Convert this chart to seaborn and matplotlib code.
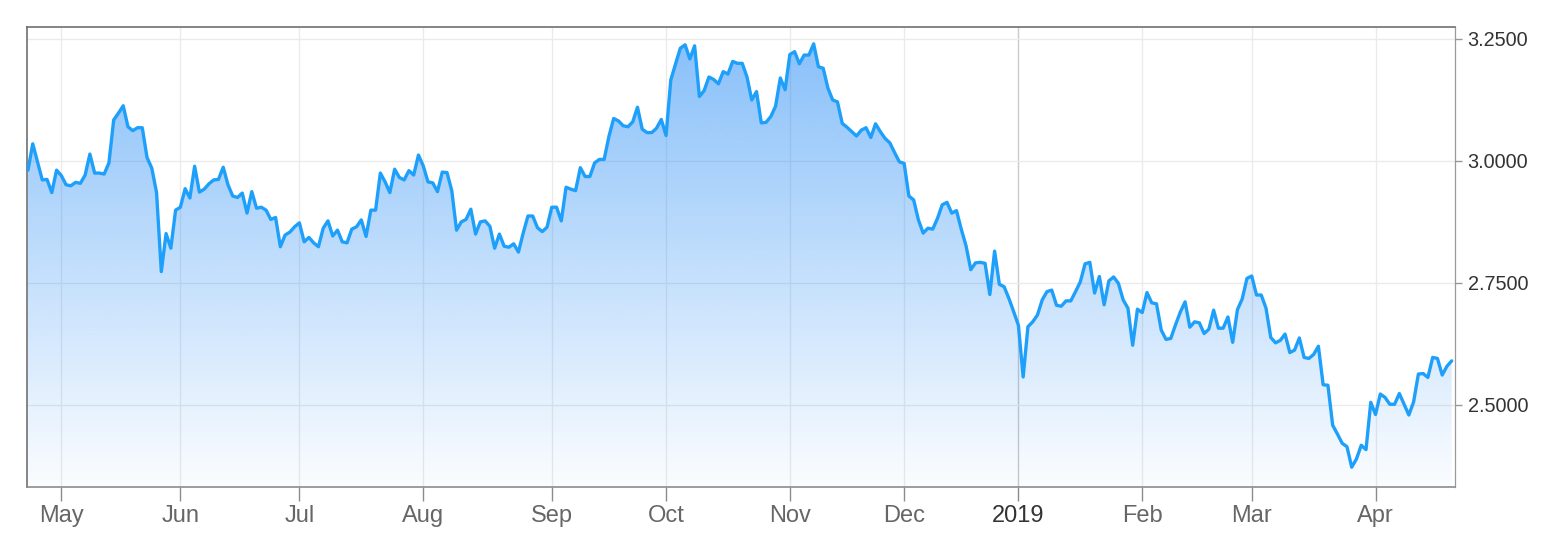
import numpy as np
import pandas as pd
import matplotlib
matplotlib.use("Agg")
import matplotlib.pyplot as plt
import seaborn as sns

# daily values, grouped by month
apr_2018 = [2.981, 3.035, 2.998, 2.961, 2.962, 2.935, 2.981]
may_2018 = [2.970, 2.951, 2.949, 2.956, 2.954, 2.971, 3.014, 2.975, 2.975, 2.973,
            2.996, 3.084, 3.098, 3.113, 3.070, 3.062, 3.068, 3.068, 3.007, 2.985,
            2.935, 2.773, 2.851, 2.821, 2.899]
jun_2018 = [2.905, 2.943, 2.924, 2.989, 2.936, 2.942, 2.953, 2.961, 2.962, 2.987,
            2.951, 2.928, 2.925, 2.934, 2.893, 2.937, 2.903, 2.905, 2.899, 2.880,
            2.884, 2.824, 2.848, 2.854, 2.865]
jul_2018 = [2.873, 2.834, 2.843, 2.832, 2.824, 2.862, 2.877, 2.846, 2.858, 2.834,
            2.832, 2.860, 2.865, 2.879, 2.845, 2.899, 2.899, 2.975, 2.957, 2.935,
            2.983, 2.966, 2.961, 2.980, 2.971, 3.012]
aug_2018 = [2.990, 2.957, 2.955, 2.937, 2.977, 2.976, 2.939, 2.858, 2.875, 2.880,
            2.901, 2.850, 2.875, 2.877, 2.866, 2.821, 2.850, 2.825, 2.823, 2.830,
            2.813, 2.852, 2.887, 2.887, 2.863, 2.855, 2.864]
sep_2018 = [2.905, 2.905, 2.877, 2.946, 2.942, 2.939, 2.986, 2.968, 2.968, 2.996,
            3.003, 3.003, 3.050, 3.087, 3.082, 3.072, 3.070, 3.080, 3.110, 3.065,
            3.058, 3.058, 3.067, 3.085]
oct_2018 = [3.052, 3.166, 3.199, 3.231, 3.238, 3.209, 3.236, 3.132, 3.144, 3.172,
            3.167, 3.158, 3.183, 3.178, 3.204, 3.200, 3.200, 3.172, 3.125, 3.142,
            3.078, 3.079, 3.091, 3.112, 3.170, 3.146]
nov_2018 = [3.218, 3.224, 3.199, 3.217, 3.217, 3.240, 3.193, 3.190, 3.149, 3.125,
            3.121, 3.077, 3.069, 3.060, 3.051, 3.063, 3.068, 3.048, 3.076, 3.060,
            3.046, 3.037, 3.017, 2.998]
dec_2018 = [2.995, 2.928, 2.920, 2.879, 2.852, 2.862, 2.860, 2.882, 2.910, 2.915,
            2.893, 2.898, 2.860, 2.826, 2.777, 2.791, 2.792, 2.790, 2.726, 2.815,
            2.747, 2.742, 2.718, 2.691]
jan_2019 = [2.663, 2.557, 2.660, 2.670, 2.684, 2.715, 2.732, 2.735, 2.704, 2.702,
            2.713, 2.713, 2.732, 2.752, 2.789, 2.792, 2.729, 2.763, 2.705, 2.754,
            2.762, 2.749, 2.715, 2.698, 2.622, 2.696]
feb_2019 = [2.689, 2.730, 2.709, 2.707, 2.653, 2.634, 2.636, 2.664, 2.690, 2.711,
            2.659, 2.670, 2.668, 2.646, 2.655, 2.694, 2.657, 2.657, 2.680, 2.628,
            2.695, 2.717, 2.759]
mar_2019 = [2.764, 2.725, 2.725, 2.698, 2.638, 2.627, 2.632, 2.645, 2.607, 2.612,
            2.637, 2.597, 2.595, 2.603, 2.620, 2.541, 2.540, 2.458, 2.440, 2.421,
            2.414, 2.372, 2.389, 2.417, 2.408, 2.505]
apr_2019 = [2.480, 2.522, 2.515, 2.501, 2.501, 2.523, 2.501, 2.479, 2.506, 2.563,
            2.564, 2.556, 2.597, 2.595, 2.561, 2.579, 2.590]

months = [apr_2018, may_2018, jun_2018, jul_2018, aug_2018, sep_2018, oct_2018,
          nov_2018, dec_2018, jan_2019, feb_2019, mar_2019, apr_2019]
month_labels = ["May", "Jun", "Jul", "Aug", "Sep", "Oct", "Nov", "Dec",
                "2019", "Feb", "Mar", "Apr"]
y_ticks = [2.50, 2.75, 3.00, 3.25]

values = np.concatenate(months)
df = pd.DataFrame({"idx": np.arange(len(values)), "value": values})
month_starts = np.cumsum([0] + [len(m) for m in months])[1:-1]

sns.set_style("white")
plt.rcParams["font.family"] = ["Liberation Sans", "DejaVu Sans"]

fig = plt.figure(figsize=(15.66, 5.5), dpi=100)
ax = fig.add_axes([0.01705, 0.1151, 0.9121, 0.8364])

line_color = "#1ea0fa"
x_lo, x_hi = -0.27, len(values) - 1 + 0.7
y_lo, y_hi = 2.332, 3.2752

sns.lineplot(data=df, x="idx", y="value", color=line_color, linewidth=2.4,
             estimator=None, errorbar=None, ax=ax, zorder=4)

# gradient area under the line
poly = ax.fill_between(df["idx"], df["value"], y_lo, facecolor="none",
                       edgecolor="none")
grad = np.zeros((256, 1, 4))
grad[..., 0] = 20 / 255
grad[..., 1] = 130 / 255
grad[..., 2] = 245 / 255
grad[..., 3] = np.linspace(0.5, 0.02, 256)[:, None]
im = ax.imshow(grad, extent=[x_lo, x_hi, y_lo, 3.24], aspect="auto",
               origin="upper", zorder=2, interpolation="bilinear")
im.set_clip_path(poly.get_paths()[0], transform=ax.transData)

ax.set_xlim(x_lo, x_hi)
ax.set_ylim(y_lo, y_hi)
ax.set_aspect("auto")

ax.set_xticks(month_starts)
ax.set_xticklabels(month_labels)
ax.set_yticks(y_ticks)
ax.set_yticklabels([f"{v:.4f}" for v in y_ticks])
ax.yaxis.tick_right()
ax.set_xlabel("")
ax.set_ylabel("")

ax.set_axisbelow(True)
ax.grid(True, color="#ebebeb", linewidth=1.0)
for i, lab in enumerate(month_labels):
    if lab == "2019":
        ax.get_xgridlines()[i].set_color("#cacaca")

ax.tick_params(axis="x", length=10, width=1, color="#8c8c8c", labelsize=17,
               labelcolor="#666666", pad=3.5, bottom=True)
ax.tick_params(axis="y", length=5, width=1, color="#999999", labelsize=14.3,
               labelcolor="#333333", pad=4, right=True, left=False)
for t in ax.get_xticklabels():
    if t.get_text() == "2019":
        t.set_color("#333333")

ax.spines["left"].set_color("#707070")
ax.spines["top"].set_color("#707070")
ax.spines["bottom"].set_color("#8c8c8c")
ax.spines["right"].set_color("#9a9a9a")
for s in ["left", "top", "bottom"]:
    ax.spines[s].set_linewidth(1.2)
ax.spines["right"].set_linewidth(0.9)

fig.savefig("out.png", dpi=100)
